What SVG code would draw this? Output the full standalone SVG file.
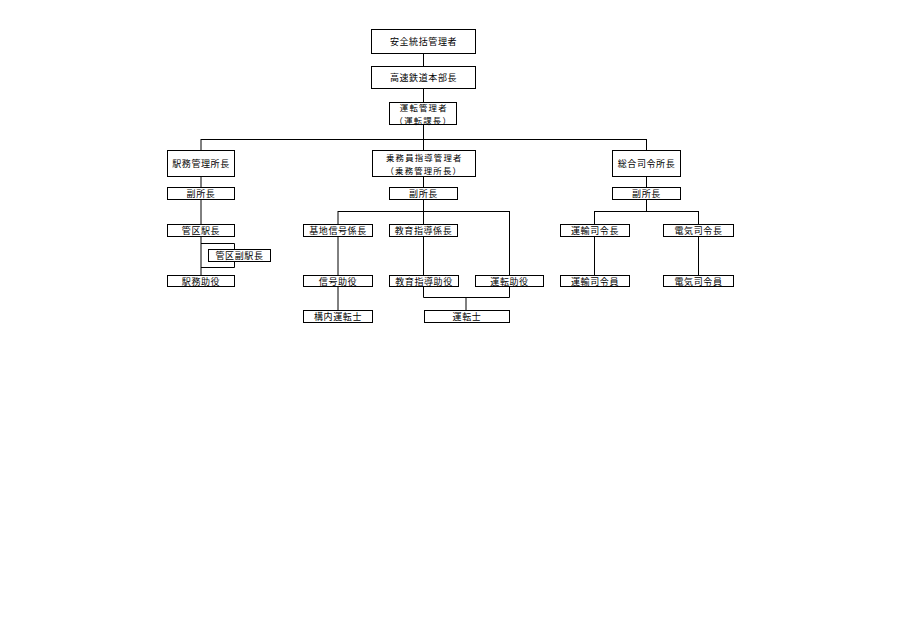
<svg xmlns="http://www.w3.org/2000/svg" width="899" height="636" viewBox="0 0 899 636">
<style>
.b{fill:#fff;stroke:#000;stroke-width:1}
.t{font-family:"Noto Sans CJK JP","Noto Sans CJK SC",sans-serif;font-size:9px;fill:#000;text-anchor:middle;dominant-baseline:central;letter-spacing:0.6px}
.t2{font-size:8.4px;letter-spacing:1.2px}
.c{fill:none;stroke:#000;stroke-width:1}
</style>
<rect width="899" height="636" fill="#fff"/>
<g id="connectors">
<path class="c" d="M423.5 53V150M201 139.5H646.5M201 139V275M646.5 139V211M338 211.5H509.5M423.5 176V297.5H509.5M509.5 211V297.5M466 297.5V310M338 211V310M594.5 211.5H698.5M594.5 211V275M698.5 211V275M201 243.5H234.5V267.5H201"/>
</g>
<g id="n1"><rect class="b" x="371.5" y="29.5" width="104" height="24"/><text class="t" x="423.5" y="41.5">安全統括管理者</text></g>
<g id="n2"><rect class="b" x="371.5" y="66.5" width="104" height="22"/><text class="t" x="423.5" y="77.5">高速鉄道本部長</text></g>
<g id="n3"><rect class="b" x="389.5" y="102.5" width="67" height="22"/><text class="t t2" x="423.8" y="107.3">運転管理者</text><text class="t t2" x="423.3" y="119.7">（運転課長）</text></g>
<g id="n4"><rect class="b" x="167.5" y="150.5" width="67" height="26"/><text class="t" x="201" y="163.5">駅務管理所長</text></g>
<g id="n5"><rect class="b" x="372.5" y="150.5" width="103" height="26"/><text class="t t2" x="424.3" y="157.2">乗務員指導管理者</text><text class="t t2" x="423.8" y="169.6">（乗務管理所長）</text></g>
<g id="n6"><rect class="b" x="612.5" y="150.5" width="68" height="26"/><text class="t" x="646.5" y="163.5">総合司令所長</text></g>
<g id="n7"><rect class="b" x="167.5" y="187.5" width="67" height="12"/><text class="t" x="201" y="193.5">副所長</text></g>
<g id="n8"><rect class="b" x="389.5" y="187.5" width="68" height="12"/><text class="t" x="423.5" y="193.5">副所長</text></g>
<g id="n9"><rect class="b" x="612.5" y="187.5" width="68" height="12"/><text class="t" x="646.5" y="193.5">副所長</text></g>
<g id="n10"><rect class="b" x="167.5" y="224.5" width="67" height="12"/><text class="t" x="201" y="230.5">管区駅長</text></g>
<g id="n11"><rect class="b" x="208.5" y="249.5" width="62" height="12"/><text class="t" x="239.5" y="255.5">管区副駅長</text></g>
<g id="n12"><rect class="b" x="167.5" y="275.5" width="67" height="11"/><text class="t" x="201" y="281">駅務助役</text></g>
<g id="n13"><rect class="b" x="303.5" y="224.5" width="69" height="12"/><text class="t" x="338" y="230.5">基地信号係長</text></g>
<g id="n14"><rect class="b" x="303.5" y="275.5" width="69" height="11"/><text class="t" x="338" y="281">信号助役</text></g>
<g id="n15"><rect class="b" x="303.5" y="310.5" width="69" height="12"/><text class="t" x="338" y="316.5">構内運転士</text></g>
<g id="n16"><rect class="b" x="389.5" y="224.5" width="68" height="12"/><text class="t" x="423.5" y="230.5">教育指導係長</text></g>
<g id="n17"><rect class="b" x="389.5" y="275.5" width="69" height="11"/><text class="t" x="424" y="281">教育指導助役</text></g>
<g id="n18"><rect class="b" x="475.5" y="275.5" width="68" height="11"/><text class="t" x="509.5" y="281">運転助役</text></g>
<g id="n19"><rect class="b" x="424.5" y="310.5" width="85" height="12"/><text class="t" x="467" y="316.5">運転士</text></g>
<g id="n20"><rect class="b" x="560.5" y="224.5" width="69" height="12"/><text class="t" x="595" y="230.5">運輸司令長</text></g>
<g id="n21"><rect class="b" x="560.5" y="275.5" width="69" height="11"/><text class="t" x="595" y="281">運輸司令員</text></g>
<g id="n22"><rect class="b" x="663.5" y="224.5" width="70" height="12"/><text class="t" x="698.5" y="230.5">電気司令長</text></g>
<g id="n23"><rect class="b" x="663.5" y="275.5" width="70" height="11"/><text class="t" x="698.5" y="281">電気司令員</text></g>
</svg>
